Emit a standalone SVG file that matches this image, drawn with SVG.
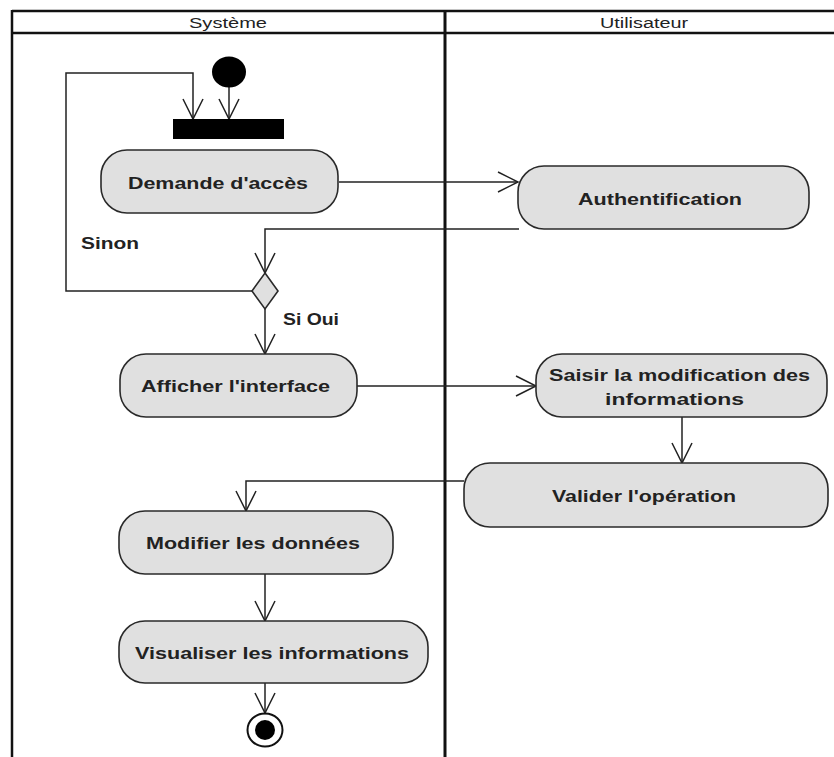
<svg xmlns="http://www.w3.org/2000/svg" width="834" height="757" viewBox="0 0 834 757">
<style>
.frame{stroke:#111;fill:none}
.node rect,.node polygon{fill:#e0e0e0;stroke:#2a2a2a;stroke-width:1.6}
.lbl{font-family:"Liberation Sans",Arial,sans-serif;font-weight:bold;font-size:17px;fill:#222}
.hdr{font-family:"Liberation Sans",Arial,sans-serif;font-size:14px;fill:#222}
.conn path{fill:none;stroke:#222;stroke-width:1.5}
</style>
<defs>
<marker id="open" markerUnits="userSpaceOnUse" markerWidth="24" markerHeight="24" viewBox="-22 -12 24 24" refX="0" refY="0" orient="auto">
<path d="M-20,-10 L0,0 L-20,10" fill="none" stroke="#222" stroke-width="1.5"/>
</marker>
</defs>
<rect width="834" height="757" fill="#fff"/>
<g id="swimlanes">
<line class="frame" x1="12" y1="11" x2="834" y2="11" stroke-width="2.5"/>
<line class="frame" x1="12" y1="33" x2="834" y2="33" stroke-width="2.5"/>
<line class="frame" x1="12" y1="10" x2="12" y2="757" stroke-width="2.5"/>
<line class="frame" x1="445" y1="10" x2="445" y2="757" stroke-width="3"/>
<text class="hdr" x="189" y="28" textLength="78" lengthAdjust="spacingAndGlyphs">Système</text>
<text class="hdr" x="600" y="28" textLength="88" lengthAdjust="spacingAndGlyphs">Utilisateur</text>
</g>
<g class="conn" id="connectors">
<path d="M229,87 V119" marker-end="url(#open)"/>
<path d="M252,291 H66 V73 H193 V119" marker-end="url(#open)"/>
<path d="M339,182 H518" marker-end="url(#open)"/>
<path d="M519,229 H265 V273" marker-end="url(#open)"/>
<path d="M265,309 V354" marker-end="url(#open)"/>
<path d="M357,386 H536" marker-end="url(#open)"/>
<path d="M682,417 V463" marker-end="url(#open)"/>
<path d="M464,481 H246 V511" marker-end="url(#open)"/>
<path d="M265,574 V621" marker-end="url(#open)"/>
<path d="M265,683 V713" marker-end="url(#open)"/>
<text class="lbl" x="81" y="249" textLength="58" lengthAdjust="spacingAndGlyphs">Sinon</text>
<text class="lbl" x="283" y="325" font-size="15" textLength="56" lengthAdjust="spacingAndGlyphs">Si Oui</text>
</g>
<g id="initial">
<ellipse cx="229" cy="72" rx="17" ry="15.5" fill="#000"/>
</g>
<g id="fork">
<rect x="173" y="119" width="111" height="20" fill="#000"/>
</g>
<g id="demande" class="node">
<rect x="101" y="150" width="237" height="63" rx="26" ry="26"/>
<text class="lbl" x="128" y="189" textLength="180" lengthAdjust="spacingAndGlyphs">Demande d'accès</text>
</g>
<g id="auth" class="node">
<rect x="518" y="166" width="291" height="63" rx="26" ry="26"/>
<text class="lbl" x="578" y="205" textLength="164" lengthAdjust="spacingAndGlyphs">Authentification</text>
</g>
<g id="decision" class="node">
<polygon points="265,273 278,291 265,309 252,291"/>
</g>
<g id="afficher" class="node">
<rect x="120" y="354" width="237" height="63" rx="26" ry="26"/>
<text class="lbl" x="141" y="392" textLength="189" lengthAdjust="spacingAndGlyphs">Afficher l'interface</text>
</g>
<g id="saisir" class="node">
<rect x="536" y="354" width="291" height="63" rx="26" ry="26"/>
<text class="lbl" x="549" y="381" textLength="261" lengthAdjust="spacingAndGlyphs">Saisir la modification des</text>
<text class="lbl" x="605" y="405" textLength="139" lengthAdjust="spacingAndGlyphs">informations</text>
</g>
<g id="valider" class="node">
<rect x="464" y="463" width="364" height="64" rx="26" ry="26"/>
<text class="lbl" x="552" y="502" textLength="184" lengthAdjust="spacingAndGlyphs">Valider l'opération</text>
</g>
<g id="modifier" class="node">
<rect x="119" y="511" width="274" height="63" rx="26" ry="26"/>
<text class="lbl" x="146" y="549" textLength="214" lengthAdjust="spacingAndGlyphs">Modifier les données</text>
</g>
<g id="visualiser" class="node">
<rect x="119" y="621" width="309" height="62" rx="26" ry="26"/>
<text class="lbl" x="135" y="659" textLength="274" lengthAdjust="spacingAndGlyphs">Visualiser les informations</text>
</g>
<g id="final">
<ellipse cx="265" cy="730" rx="17.5" ry="16.5" fill="none" stroke="#111" stroke-width="2"/>
<circle cx="265" cy="730" r="10" fill="#000"/>
</g>
</svg>
